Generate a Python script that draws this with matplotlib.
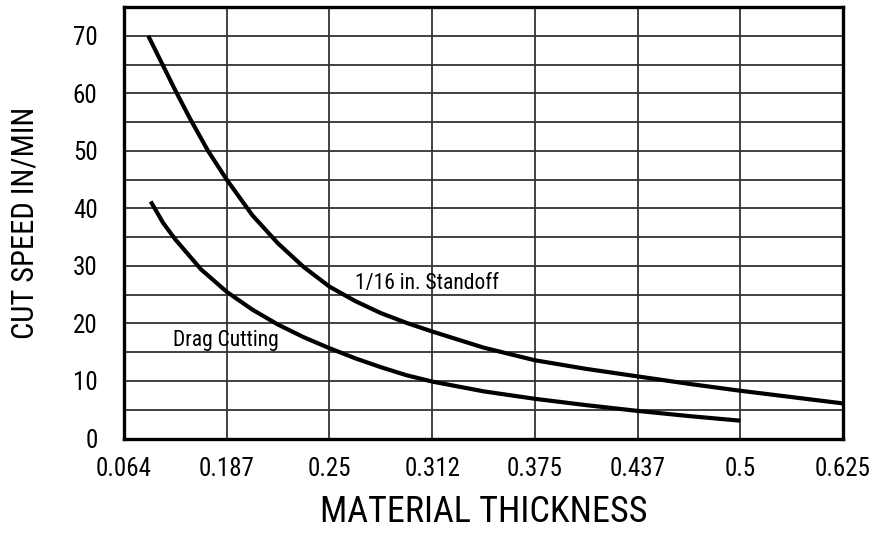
import matplotlib
matplotlib.use("Agg")
import matplotlib.pyplot as plt
import numpy as np

# x axis is categorical: evenly spaced thickness labels
thickness_labels = ["0.064", "0.187", "0.25", "0.312", "0.375", "0.437", "0.5", "0.625"]

# curves (x in category-index units)
standoff_x = [0.236, 0.5, 0.643, 0.818, 1.0, 1.25, 1.5, 1.75, 2.0, 2.25, 2.5, 2.75,
              3.0, 3.5, 4.0, 4.5, 5.0, 5.5, 6.0, 6.5, 7.0]
standoff_y = [70.0, 60.5, 55.6, 50.0, 45.0, 38.8, 33.9, 29.8, 26.4, 23.9, 21.8, 20.1,
              18.6, 15.8, 13.6, 12.1, 10.8, 9.5, 8.3, 7.2, 6.1]

drag_x = [0.26, 0.38, 0.5, 0.75, 1.0, 1.25, 1.5, 1.75, 2.0, 2.25, 2.5, 2.75,
          3.0, 3.5, 4.0, 4.5, 5.0, 5.5, 6.0]
drag_y = [41.2, 37.5, 34.6, 29.4, 25.5, 22.4, 19.8, 17.6, 15.7, 13.95, 12.4, 11.0,
          9.9, 8.2, 6.9, 5.8, 4.8, 3.9, 3.1]

FONT = ["Liberation Sans Narrow", "Roboto Condensed", "DejaVu Sans"]
plt.rcParams["font.family"] = FONT

fig = plt.figure(figsize=(8.7, 5.37), dpi=100)
ax = fig.add_axes([0.1425, 0.1834, 0.8265, 0.8036])

ax.plot(standoff_x, standoff_y, color="black", lw=3.0, solid_capstyle="butt",
        solid_joinstyle="round", zorder=3)
ax.plot(drag_x, drag_y, color="black", lw=3.0, solid_capstyle="butt",
        solid_joinstyle="round", zorder=3)

ax.text(2.25, 27.0, "1/16 in. Standoff", fontsize=15.5, va="center", ha="left")
ax.text(0.48, 17.1, "Drag Cutting", fontsize=15.5, va="center", ha="left")

ax.set_xlim(0, 7)
ax.set_ylim(0, 75)
ax.set_xticks(np.arange(len(thickness_labels)))
ax.set_xticklabels(thickness_labels)
ax.set_yticks(np.arange(0, 71, 10))
ax.set_yticks(np.arange(0, 76, 5), minor=True)
ax.tick_params(axis="both", which="both", length=0, labelsize=18)
ax.tick_params(axis="x", pad=13)
ax.tick_params(axis="y", pad=19)

ax.grid(True, which="both", axis="y", color="#333333", lw=1.3)
ax.grid(True, which="major", axis="x", color="#333333", lw=1.3)
ax.set_axisbelow(True)
for s in ax.spines.values():
    s.set_linewidth(2.4)
    s.set_color("black")

ax.set_xlabel("MATERIAL THICKNESS", fontsize=26, labelpad=10)
ax.set_ylabel("CUT SPEED IN/MIN", fontsize=22, labelpad=24)

fig.savefig("out.png", dpi=100)
